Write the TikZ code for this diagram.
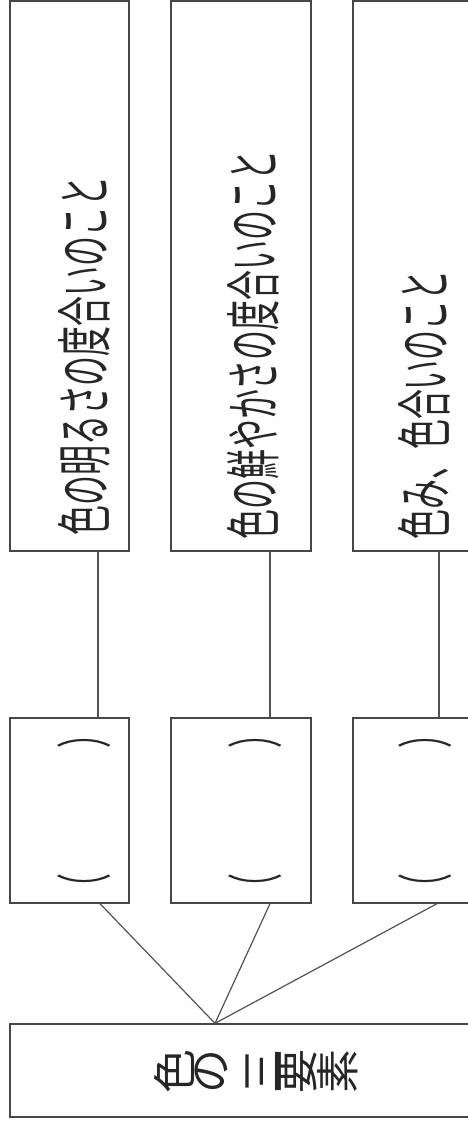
\documentclass[tikz,border=0pt]{standalone}
\usepackage{fontspec}
\newfontfamily\jp{Noto Sans CJK JP}
\usetikzlibrary{calc}
\tikzset{
  box/.style={draw=black!72, line width=1.3pt, rectangle, inner sep=0pt, fill=none},
  conn/.style={draw=black!68, line width=1.2pt},
  vtext/.style={rotate=90, anchor=west, inner sep=0pt, text=black!85},
  ptext/.style={rotate=90, anchor=center, inner sep=0pt, text=black!85},
}
\newcommand{\cond}[1]{\scalebox{0.535}[1]{\jp\fontsize{56}{56}\selectfont #1}}
\newcommand{\rg}[1]{\rotatebox{90}{#1}}
\begin{document}
\begin{tikzpicture}[x=1pt,y=-1pt]
\useasboundingbox (0,0) rectangle (468,1125);
\begin{scope}
\clip (0,0) rectangle (468,1125);
% tall boxes
\node[box, minimum width=119pt, minimum height=550pt] (t1) at (69.5,276) {};
\node[box, minimum width=140pt, minimum height=550pt] (t2) at (241,276) {};
\node[box, minimum width=140pt, minimum height=550pt] (t3) at (423,276) {};
% small boxes
\node[box, minimum width=119pt, minimum height=185pt] (s1) at (69.5,810.5) {};
\node[box, minimum width=140pt, minimum height=185pt] (s2) at (241,810.5) {};
\node[box, minimum width=140pt, minimum height=185pt] (s3) at (423,810.5) {};
% bottom box
\node[box, minimum width=490pt, minimum height=93pt] (b) at (255,1070.5) {};
% texts
\node[vtext] (x1) at (84,536) {\cond{色の明るさの度合いのこと}};
\node[vtext] (x2) at (253,540) {\cond{色の鮮やかさの度合いのこと}};
\node[vtext] (x3) at (424,540) {\cond{色み、色合いのこと}};
\node[ptext] (p1) at (84,811) {\cond{（\hspace{235pt}）}};
\node[ptext] (p2) at (255,811) {\cond{（\hspace{235pt}）}};
\node[ptext] (p3) at (425,811) {\cond{（\hspace{235pt}）}};
\node[inner sep=0pt, text=black!85] (bt) at (256,1071) {\jp\fontsize{44}{44}\selectfont\rg{色}\rg{の}\hspace{18pt}\rg{三}\rg{要}\rg{素}};
% connectors
\draw[conn] (t1.south -| 98,0) -- (s1.north -| 98,0);
\draw[conn] (t2.south -| 270,0) -- (s2.north -| 270,0);
\draw[conn] (t3.south -| 439,0) -- (s3.north -| 439,0);
\coordinate (hub) at (b.north -| 215,0);
\draw[conn] (hub) -- (s1.south -| 100,0);
\draw[conn] (hub) -- (s2.south -| 270,0);
\draw[conn] (hub) -- (s3.south -| 437,0);
\end{scope}
\end{tikzpicture}
\end{document}
